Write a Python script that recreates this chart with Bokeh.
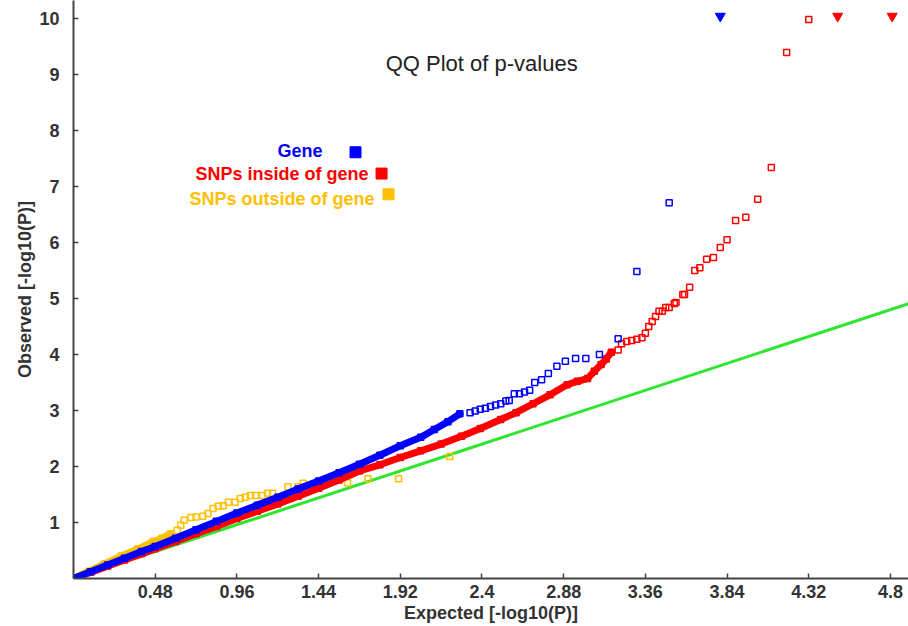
from bokeh.plotting import figure
from bokeh.models import Range1d, FixedTicker, Label, Title
from bokeh.embed import file_html
from bokeh.resources import INLINE

# ---------------- data ----------------
x_ticks = [0.48, 0.96, 1.44, 1.92, 2.4, 2.88, 3.36, 3.84, 4.32, 4.8]
x_tick_labels = ["0.48", "0.96", "1.44", "1.92", "2.4", "2.88", "3.36", "3.84", "4.32", "4.8"]
y_ticks = [1, 2, 3, 4, 5, 6, 7, 8, 9, 10]

series_names = ["Gene", "SNPs inside of gene", "SNPs outside of gene"]

gene_expected = [0.0, 0.1, 0.2, 0.3, 0.4, 0.48, 0.6, 0.72, 0.84, 0.96, 1.08, 1.2, 1.32,
                 1.44, 1.56, 1.68, 1.8, 1.92, 2.04, 2.12, 2.2, 2.27, 2.33, 2.36, 2.39,
                 2.42, 2.45, 2.48, 2.51, 2.54, 2.56, 2.59, 2.62, 2.65, 2.68, 2.71, 2.75,
                 2.79, 2.84, 2.89, 2.95, 3.01, 3.09, 3.20, 3.31, 3.50]
gene_observed = [0.0, 0.12, 0.24, 0.36, 0.48, 0.57, 0.72, 0.87, 1.02, 1.17, 1.31, 1.45, 1.60,
                 1.74, 1.89, 2.04, 2.20, 2.37, 2.52, 2.66, 2.80, 2.94, 2.96, 2.99, 3.02,
                 3.04, 3.07, 3.10, 3.12, 3.17, 3.18, 3.30, 3.30, 3.33, 3.36, 3.50, 3.55,
                 3.66, 3.79, 3.88, 3.93, 3.93, 4.00, 4.28, 5.48, 6.71]
gene_offscale_expected = [3.80]

snp_in_expected = [0.0, 0.1, 0.2, 0.3, 0.4, 0.48, 0.6, 0.72, 0.84, 0.96, 1.08, 1.2, 1.32,
                   1.44, 1.56, 1.68, 1.8, 1.92, 2.04, 2.16, 2.28, 2.39, 2.51, 2.6, 2.7,
                   2.8, 2.9, 2.96, 3.02, 3.06, 3.10, 3.13, 3.16, 3.20, 3.22, 3.25, 3.28,
                   3.31, 3.34, 3.36, 3.38, 3.40, 3.42, 3.44, 3.46, 3.48, 3.50, 3.53, 3.54,
                   3.58, 3.59, 3.62, 3.65, 3.68, 3.72, 3.76, 3.80, 3.84, 3.89, 3.95, 4.02,
                   4.10, 4.19, 4.32]
snp_in_observed = [0.0, 0.11, 0.22, 0.33, 0.44, 0.53, 0.66, 0.80, 0.93, 1.07, 1.20, 1.33, 1.47,
                   1.61, 1.76, 1.92, 2.03, 2.16, 2.28, 2.40, 2.54, 2.68, 2.84, 2.96, 3.12,
                   3.28, 3.46, 3.52, 3.57, 3.70, 3.82, 3.92, 4.04, 4.08, 4.19, 4.23, 4.25,
                   4.27, 4.30, 4.38, 4.50, 4.59, 4.68, 4.77, 4.77, 4.84, 4.84, 4.91, 4.93,
                   5.07, 5.07, 5.20, 5.50, 5.55, 5.70, 5.73, 5.91, 6.05, 6.39, 6.45, 6.77,
                   7.34, 9.39, 9.98]
snp_in_offscale_expected = [4.49, 4.81]

snp_out_expected = [0.0, 0.09, 0.18, 0.28, 0.38, 0.47, 0.52, 0.57, 0.61, 0.63, 0.65, 0.69,
                    0.72, 0.76, 0.79, 0.82, 0.85, 0.88, 0.91, 0.95, 0.98, 1.01, 1.04, 1.07,
                    1.11, 1.14, 1.17, 1.26, 1.32, 1.35, 1.61, 1.73, 1.91, 2.21]
snp_out_observed = [0.0, 0.13, 0.26, 0.40, 0.53, 0.66, 0.72, 0.80, 0.86, 0.95, 1.04, 1.09,
                    1.10, 1.11, 1.16, 1.25, 1.29, 1.30, 1.36, 1.36, 1.43, 1.45, 1.48, 1.48,
                    1.48, 1.52, 1.52, 1.64, 1.64, 1.70, 1.71, 1.78, 1.78, 2.18]

ref_line = [0.0, 5.2]
offscale_value = 10.04

# ---------------- styles ----------------
FONT = "Liberation Sans"
BLUE = "#0000FF"
RED = "#FF0000"
YELLOW = "#FFC000"
GREEN = "#2EE62E"
AXIS = "#444444"
TEXT = "#333333"

p = figure(width=908, height=626, output_backend="svg", toolbar_location=None,
           x_range=Range1d(0, 4.906), y_range=Range1d(0, 10.32),
           min_border_left=73, min_border_right=0, min_border_top=0, min_border_bottom=48,
           title=None)
p.background_fill_color = "white"
p.border_fill_color = "white"
p.outline_line_color = None
p.xgrid.visible = False
p.ygrid.visible = False

for ax in (p.xaxis[0], p.yaxis[0]):
    ax.axis_line_color = AXIS
    ax.axis_line_width = 2
    ax.major_tick_line_color = AXIS
    ax.major_tick_line_width = 1.5
    ax.major_tick_in = 5
    ax.major_tick_out = 0
    ax.minor_tick_line_color = None
    ax.major_label_text_font = FONT
    ax.major_label_text_font_style = "bold"
    ax.major_label_text_font_size = "18px"
    ax.major_label_text_color = TEXT

p.xaxis.ticker = FixedTicker(ticks=x_ticks)
p.xaxis.major_label_overrides = {t: s for t, s in zip(x_ticks, x_tick_labels)}
p.xaxis.major_label_standoff = 6
p.yaxis.ticker = FixedTicker(ticks=y_ticks)
p.yaxis.major_label_standoff = 14

# axis titles
p.add_layout(Title(text="Expected [-log10(P)]", align="center", offset=-10, standoff=0,
                   text_font=FONT, text_font_size="18px", text_font_style="bold",
                   text_color=TEXT), "below")
p.add_layout(Title(text="Observed [-log10(P)]", align="center", offset=29, standoff=4,
                   text_font=FONT, text_font_size="18px", text_font_style="bold",
                   text_color=TEXT), "left")

# reference line y = x
p.line(ref_line, ref_line, line_color=GREEN, line_width=3)

def draw(xs, ys, color, dense_until):
    dx = [x for x in xs if x <= dense_until]
    dy = [y for x, y in zip(xs, ys) if x <= dense_until]
    p.line(dx, dy, line_color=color, line_width=7, line_join="round", line_cap="round")
    p.scatter(xs, ys, marker="square", size=6, fill_color=None,
              line_color=color, line_width=1.5)

draw(snp_out_expected, snp_out_observed, YELLOW, 0.6)
draw(snp_in_expected, snp_in_observed, RED, 3.16)
draw(gene_expected, gene_observed, BLUE, 2.3)

p.scatter(gene_offscale_expected, [offscale_value] * len(gene_offscale_expected),
          marker="inverted_triangle", size=10, color=BLUE)
p.scatter(snp_in_offscale_expected, [offscale_value] * len(snp_in_offscale_expected),
          marker="inverted_triangle", size=10, color=RED)

# title
p.add_layout(Label(x=2.398, y=9.20, text="QQ Plot of p-values", text_font=FONT,
                   text_font_size="22px", text_color="#222222",
                   text_align="center", text_baseline="middle"))

# legend (manual)
legend_text_pos = [(1.463, 7.64), (1.733, 7.23), (1.768, 6.77)]
legend_box_pos = [(1.657, 7.61), (1.810, 7.23), (1.851, 6.86)]
for name, color, (tx, ty), (bx, by) in zip(series_names, [BLUE, RED, YELLOW],
                                          legend_text_pos, legend_box_pos):
    p.add_layout(Label(x=tx, y=ty, text=name, text_font=FONT, text_font_size="18px",
                       text_font_style="bold", text_color=color,
                       text_align="right", text_baseline="middle"))
    p.scatter([bx], [by], marker="square", size=11, color=color)

open("out.html", "w").write(file_html(p, INLINE))
